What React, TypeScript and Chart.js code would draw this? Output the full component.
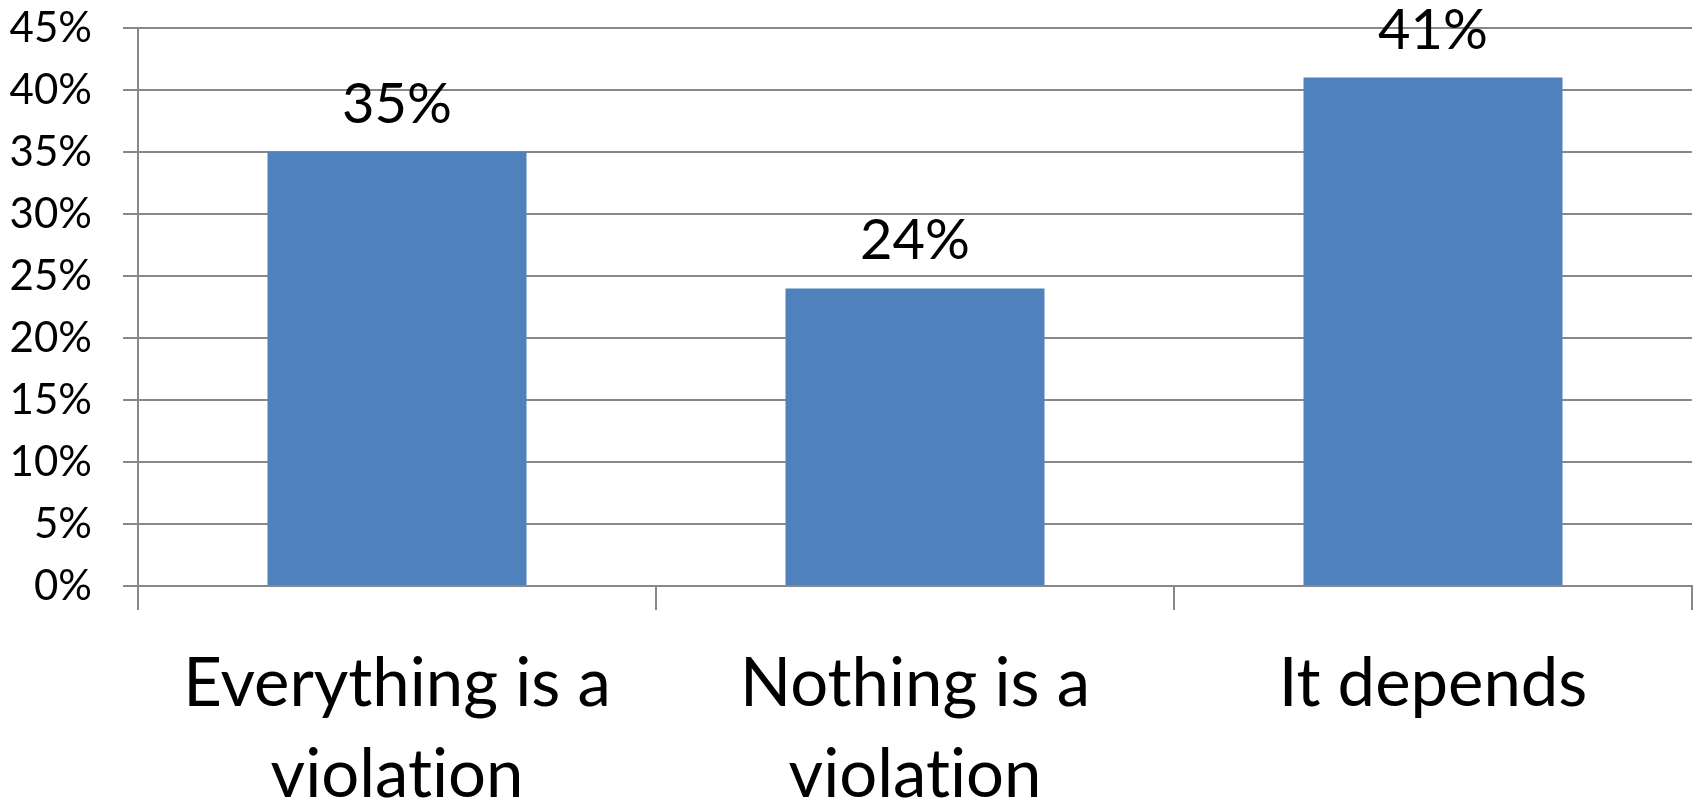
import React, { useEffect, useRef } from "react";
import { Chart, registerables } from "chart.js";

Chart.register(...registerables);

const categories: string[][] = [
  ["Everything is a", "violation"],
  ["Nothing is a", "violation"],
  ["It depends"],
];
const values: number[] = [35, 24, 41];
const yTicks: number[] = [0, 5, 10, 15, 20, 25, 30, 35, 40, 45];

const FONT = "Lato, 'Open Sans', sans-serif";

const textModePlugin = {
  id: "textMode",
  beforeDraw(chart: any) {
    const ctx = chart.ctx as any;
    ctx.textRendering = "optimizeSpeed";
  },
};

const dataLabelPlugin = {
  id: "dataLabels",
  afterDatasetsDraw(chart: any) {
    const ctx = chart.ctx;
    const meta = chart.getDatasetMeta(0);
    ctx.save();
    ctx.fillStyle = "#000";
    ctx.font = `56px ${FONT}`;
    ctx.textAlign = "center";
    ctx.textBaseline = "alphabetic";
    meta.data.forEach((bar: any, i: number) => {
      ctx.fillText(`${values[i]}%`, bar.x, bar.y - 29);
    });
    ctx.restore();
  },
};

export default function App() {
  const ref = useRef<HTMLCanvasElement | null>(null);
  useEffect(() => {
    document.body.style.margin = "0";
    const chart = new Chart(ref.current as HTMLCanvasElement, {
      type: "bar",
      data: {
        labels: categories,
        datasets: [
          {
            data: values,
            backgroundColor: "#4F81BD",
            barPercentage: 0.5,
            categoryPercentage: 1,
          },
        ],
      },
      options: {
        responsive: false,
        animation: false,
        layout: { padding: { top: 28, right: 4, left: 0, bottom: 0 } },
        plugins: {
          legend: { display: false },
          tooltip: { enabled: false },
        },
        scales: {
          x: {
            offset: true,
            grid: {
              offset: true,
              drawOnChartArea: false,
              drawTicks: true,
              tickLength: 24,
              color: "#888",
              lineWidth: 2,
            },
            border: { display: true, color: "#888", width: 2 },
            ticks: {
              color: "#000",
              font: { family: FONT, size: 67, lineHeight: 1.37 },
              padding: 28,
              maxRotation: 0,
              autoSkip: false,
            },
            afterFit: (s: any) => {
              s.height = 216;
            },
          },
          y: {
            min: 0,
            max: 45,
            afterBuildTicks: (s: any) => {
              s.ticks = yTicks.map((v) => ({ value: v }));
            },
            grid: {
              color: "#888",
              lineWidth: 2,
              tickLength: 15,
            },
            border: { display: true, color: "#888", width: 2 },
            ticks: {
              color: "#000",
              font: { family: FONT, size: 42 },
              padding: 31,
              callback: (v: any) => `${v}%`,
            },
            afterFit: (s: any) => {
              s.width = 138;
              s.paddingTop = 0;
              s.paddingBottom = 0;
            },
          },
        },
      },
      plugins: [textModePlugin, dataLabelPlugin],
    });
    return () => chart.destroy();
  }, []);
  return <canvas ref={ref} width={1696} height={802} style={{ display: "block" }} />;
}
